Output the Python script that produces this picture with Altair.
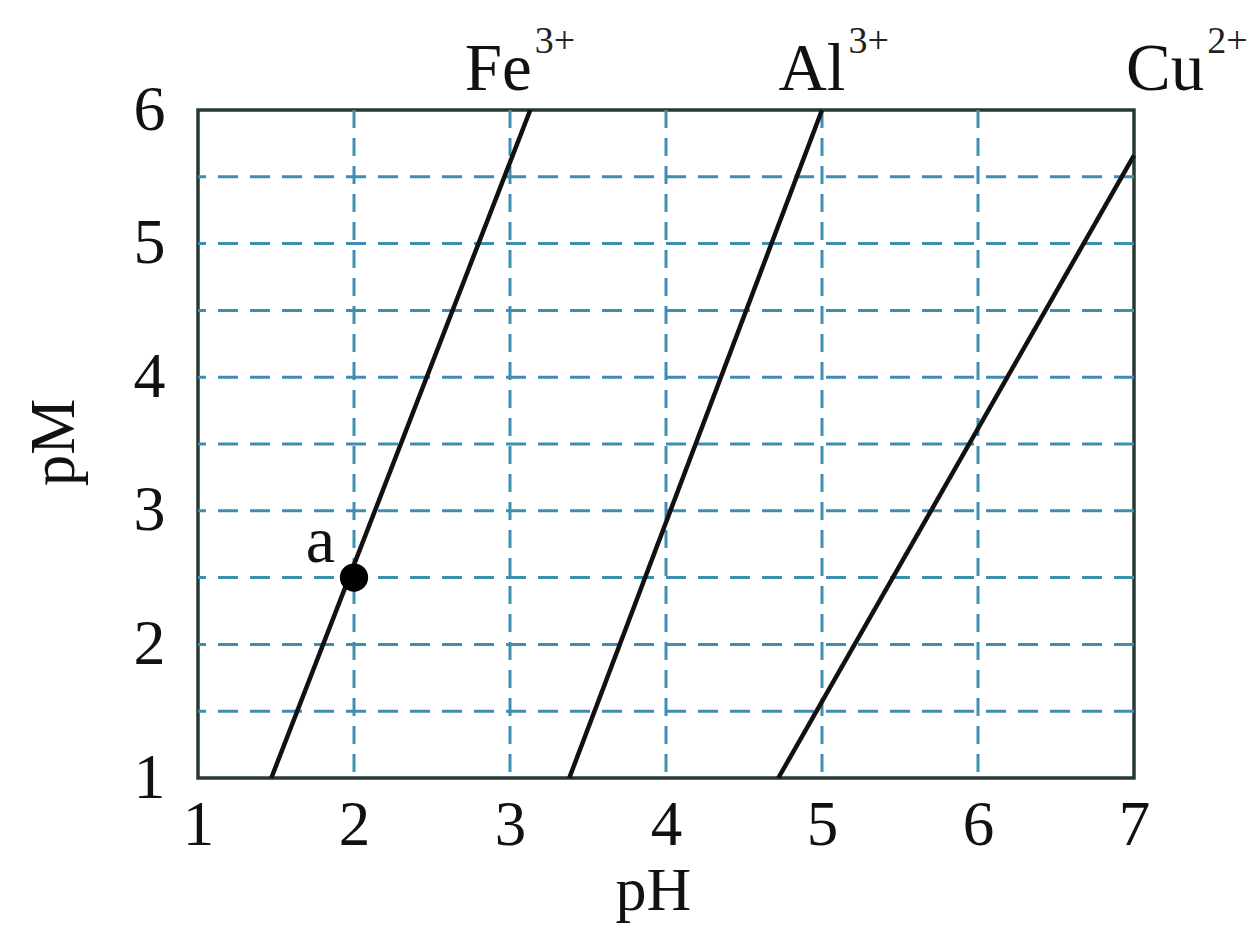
import altair as alt
import pandas as pd

# ---- data ----
ions = ["Fe", "Al", "Cu"]
charges = ["3+", "3+", "2+"]
line_pH_start = [1.47, 3.38, 4.72]
line_pH_end = [3.13, 5.00, 7.00]
line_pM_start = [1.0, 1.0, 1.0]
line_pM_end = [6.0, 6.0, 5.66]

label_pH = [3.14, 5.15, 7.45]
label_pM = [6.15, 6.15, 6.15]

point_pH = [2.0]
point_pM = [2.5]
point_label = ["a"]

x_ticks = [1, 2, 3, 4, 5, 6, 7]
y_ticks = [1, 2, 3, 4, 5, 6]
grid_pH = [2, 3, 4, 5, 6]
grid_pM = [1.5, 2, 2.5, 3, 3.5, 4, 4.5, 5, 5.5]

FONT = "Liberation Serif"
GRID = "#3f8fb3"

rows = []
for i, ion in enumerate(ions):
    rows.append({"ion": ion, "order": 0, "pH": line_pH_start[i], "pM": line_pM_start[i]})
    rows.append({"ion": ion, "order": 1, "pH": line_pH_end[i], "pM": line_pM_end[i]})
lines_df = pd.DataFrame(rows)
labels_df = pd.DataFrame({"ion": ions, "charge": charges, "pH": label_pH, "pM": label_pM})
point_df = pd.DataFrame({"pH": point_pH, "pM": point_pM, "label": point_label})
vgrid_df = pd.DataFrame({"pH": grid_pH})
hgrid_df = pd.DataFrame({"pM": grid_pM})

xscale = alt.Scale(domain=[1, 7], nice=False, zero=False)
yscale = alt.Scale(domain=[1, 6], nice=False, zero=False)

xaxis = alt.Axis(
    values=x_ticks, format="d", grid=False, ticks=False, tickSize=0, domain=False,
    labelFont=FONT, labelFontSize=63, labelColor="#111", labelBaseline="alphabetic",
    labelPadding=66, labelFlush=False, labelOverlap=False,
    title="pH", titleFont=FONT, titleFontSize=62, titleFontWeight="normal",
    titleColor="#111", titleBaseline="alphabetic", titleAlign="center",
    titleX=455, titleY=131,
)
yaxis = alt.Axis(
    values=y_ticks, format="d", grid=False, ticks=False, tickSize=0, domain=False,
    labelFont=FONT, labelFontSize=64, labelColor="#111", labelBaseline="middle",
    labelAlign="right", labelPadding=33, labelFlush=False, labelOverlap=False,
    title="pM", titleFont=FONT, titleFontSize=63, titleFontWeight="normal",
    titleColor="#111", titleBaseline="alphabetic", titleAlign="center", titleAngle=-90,
    titleX=-125, titleY=332,
)

hgrid = alt.Chart(hgrid_df).mark_rule(
    color=GRID, strokeWidth=3, strokeDash=[20, 12]
).encode(y=alt.Y("pM:Q", scale=yscale, axis=yaxis))

vgrid = alt.Chart(vgrid_df).mark_rule(
    color=GRID, strokeWidth=3, strokeDash=[18, 10]
).encode(x=alt.X("pH:Q", scale=xscale, axis=xaxis))

lines = alt.Chart(lines_df).mark_line(color="#111", strokeWidth=4.5, clip=False).encode(
    x=alt.X("pH:Q", scale=xscale, axis=xaxis),
    y=alt.Y("pM:Q", scale=yscale, axis=yaxis),
    detail="ion:N",
    order="order:Q",
)

ion_text = alt.Chart(labels_df).mark_text(
    font=FONT, fontSize=67, align="right", baseline="alphabetic", color="#111", clip=False
).encode(x=alt.X("pH:Q", scale=xscale), y=alt.Y("pM:Q", scale=yscale), text="ion:N")

charge_text = alt.Chart(labels_df).mark_text(
    font=FONT, fontSize=38, align="left", baseline="alphabetic", color="#222",
    dx=3, dy=-37, clip=False
).encode(x=alt.X("pH:Q", scale=xscale), y=alt.Y("pM:Q", scale=yscale), text="charge:N")

point = alt.Chart(point_df).mark_circle(color="#000", opacity=1, size=800).encode(
    x=alt.X("pH:Q", scale=xscale), y=alt.Y("pM:Q", scale=yscale)
)
point_text = alt.Chart(point_df).mark_text(
    font=FONT, fontSize=66, align="right", baseline="alphabetic", color="#111",
    dx=-19, dy=-16
).encode(x=alt.X("pH:Q", scale=xscale), y=alt.Y("pM:Q", scale=yscale), text="label:N")

chart = alt.layer(hgrid, vgrid, lines, point, point_text, ion_text, charge_text).properties(
    width=936, height=668,
    autosize=alt.AutoSizeParams(type="none"),
    padding={"left": 190, "top": 102, "right": 117, "bottom": 147},
    background="white",
).configure_view(stroke="#263a33", strokeWidth=3.5, fill="white")

chart.save("out.html", embed_options={"renderer": "svg", "actions": False})
